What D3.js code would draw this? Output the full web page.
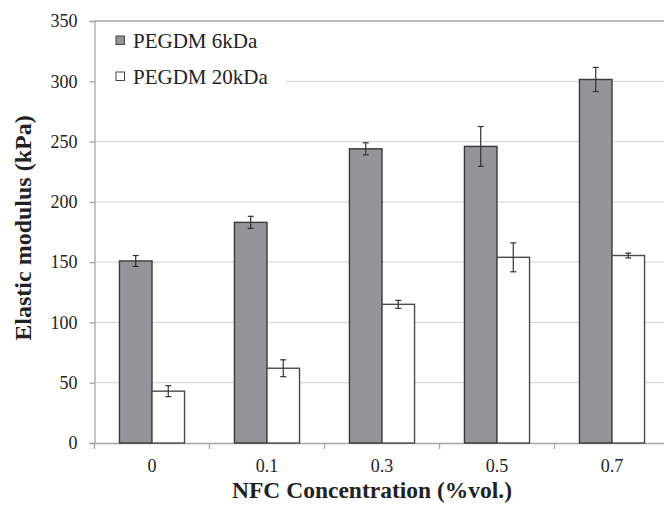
<!DOCTYPE html>
<html>
<head>
<meta charset="utf-8">
<script src="https://cdn.jsdelivr.net/npm/d3@7"></script>
<style>
  body { margin: 0; background: #fff; }
  svg { display: block; font-family: "Liberation Serif", "Times New Roman", serif; }
</style>
</head>
<body>
<svg width="664" height="506"></svg>
<script>
// data
const concentrations = ['0', '0.1', '0.3', '0.5', '0.7'];
const seriesNames = ['PEGDM 6kDa', 'PEGDM 20kDa'];
const modulus6k = [151, 183, 244, 246, 301.5];
const error6k = [4.5, 5, 5, 16.5, 10];
const modulus20k = [43, 62, 115, 154, 155.5];
const error20k = [4.5, 7, 3.3, 12, 2];
const yTicks = [0, 50, 100, 150, 200, 250, 300, 350];

const svg = d3.select('svg');

// plot box (right side runs off the picture, as in the original)
const plotLeft = 94.5, plotTop = 21, plotBottom = 443, plotRight = 669.5;

const x0 = d3.scaleBand()
  .domain(concentrations)
  .range([plotLeft, plotRight]);

const x1 = d3.scaleBand()
  .domain(seriesNames)
  .range([x0.bandwidth() * 0.217, x0.bandwidth() * 0.783]);

const y = d3.scaleLinear()
  .domain([0, 350])
  .range([plotBottom, plotTop]);

const fills = { 'PEGDM 6kDa': '#939598', 'PEGDM 20kDa': '#ffffff' };
const strokes = { 'PEGDM 6kDa': '#3a3a3a', 'PEGDM 20kDa': '#4a4a4a' };

// gridlines
svg.append('g')
  .selectAll('line')
  .data(yTicks.filter(d => d > 0 && d < 350))
  .enter()
  .append('line')
  .attr('x1', plotLeft)
  .attr('x2', plotRight)
  .attr('y1', d => y(d))
  .attr('y2', d => y(d))
  .attr('stroke', '#d9d9d9')
  .attr('stroke-width', 1.3);

// top frame line
svg.append('line')
  .attr('x1', plotLeft).attr('x2', plotRight)
  .attr('y1', y(350)).attr('y2', y(350))
  .attr('stroke', '#a6a6a6')
  .attr('stroke-width', 1.3);

// y axis
const yAxis = svg.append('g')
  .attr('transform', `translate(${plotLeft},0)`)
  .call(d3.axisLeft(y).tickValues(yTicks).tickSize(5).tickPadding(12).tickFormat(d3.format('d')));
yAxis.select('.domain').attr('stroke', '#a6a6a6').attr('stroke-width', 1.3);
yAxis.selectAll('.tick line').attr('stroke', '#a6a6a6').attr('stroke-width', 1.3);
yAxis.selectAll('text')
  .attr('font-family', '"Liberation Serif", serif')
  .attr('font-size', 18)
  .attr('fill', '#222');

// x axis
const xAxis = svg.append('g')
  .attr('transform', `translate(0,${plotBottom})`)
  .call(d3.axisBottom(x0).tickSize(0).tickPadding(16));
xAxis.select('.domain').attr('stroke', '#a6a6a6').attr('stroke-width', 1.3);
xAxis.selectAll('text')
  .attr('font-family', '"Liberation Serif", serif')
  .attr('font-size', 18)
  .attr('fill', '#222');

// category separators below the axis
svg.append('g')
  .selectAll('line')
  .data(concentrations)
  .enter()
  .append('line')
  .attr('x1', d => x0(d))
  .attr('x2', d => x0(d))
  .attr('y1', plotBottom)
  .attr('y2', plotBottom + 6)
  .attr('stroke', '#a6a6a6')
  .attr('stroke-width', 1.3);

// bars
const rows = concentrations.map((c, i) => ({
  c,
  vals: [
    { s: seriesNames[0], v: modulus6k[i], e: error6k[i] },
    { s: seriesNames[1], v: modulus20k[i], e: error20k[i] }
  ]
}));

const groups = svg.append('g')
  .selectAll('g')
  .data(rows)
  .enter()
  .append('g')
  .attr('transform', d => `translate(${x0(d.c)},0)`);

groups.selectAll('rect')
  .data(d => d.vals)
  .enter()
  .append('rect')
  .attr('x', d => x1(d.s))
  .attr('y', d => y(d.v))
  .attr('width', x1.bandwidth())
  .attr('height', d => y(0) - y(d.v))
  .attr('fill', d => fills[d.s])
  .attr('stroke', d => strokes[d.s])
  .attr('stroke-width', 1.4);

// error bars
const err = groups.selectAll('.err')
  .data(d => d.vals)
  .enter()
  .append('g')
  .attr('class', 'err')
  .attr('stroke', '#333')
  .attr('stroke-width', 1.2);

err.append('line')
  .attr('x1', d => x1(d.s) + x1.bandwidth() / 2)
  .attr('x2', d => x1(d.s) + x1.bandwidth() / 2)
  .attr('y1', d => y(d.v + d.e))
  .attr('y2', d => y(d.v - d.e));

err.selectAll('.cap')
  .data(d => [{ s: d.s, t: d.v + d.e }, { s: d.s, t: d.v - d.e }])
  .enter()
  .append('line')
  .attr('class', 'cap')
  .attr('x1', d => x1(d.s) + x1.bandwidth() / 2 - 3)
  .attr('x2', d => x1(d.s) + x1.bandwidth() / 2 + 3)
  .attr('y1', d => y(d.t))
  .attr('y2', d => y(d.t));

// legend (white box hides the 300 gridline)
const legend = svg.append('g')
  .attr('transform', 'translate(116,36)');

legend.append('rect')
  .attr('x', -20)
  .attr('y', -12)
  .attr('width', 190)
  .attr('height', 70)
  .attr('fill', '#fff');

const items = legend.selectAll('.item')
  .data(seriesNames)
  .enter()
  .append('g')
  .attr('class', 'item')
  .attr('transform', (d, i) => `translate(0,${i * 36})`);

items.append('rect')
  .attr('width', 8.5)
  .attr('height', 8.5)
  .attr('fill', d => fills[d])
  .attr('stroke', '#444')
  .attr('stroke-width', 1);

items.append('text')
  .attr('x', 17)
  .attr('y', 11.5)
  .attr('font-size', 21)
  .attr('fill', '#222')
  .text(d => d);

// axis titles
svg.append('text')
  .attr('transform', 'translate(31,228) rotate(-90)')
  .attr('text-anchor', 'middle')
  .attr('font-size', 24)
  .attr('font-weight', 'bold')
  .attr('fill', '#222')
  .text('Elastic modulus (kPa)');

svg.append('text')
  .attr('x', 372)
  .attr('y', 498)
  .attr('text-anchor', 'middle')
  .attr('font-size', 23.5)
  .attr('font-weight', 'bold')
  .attr('fill', '#222')
  .text('NFC Concentration (%vol.)');
</script>
</body>
</html>
